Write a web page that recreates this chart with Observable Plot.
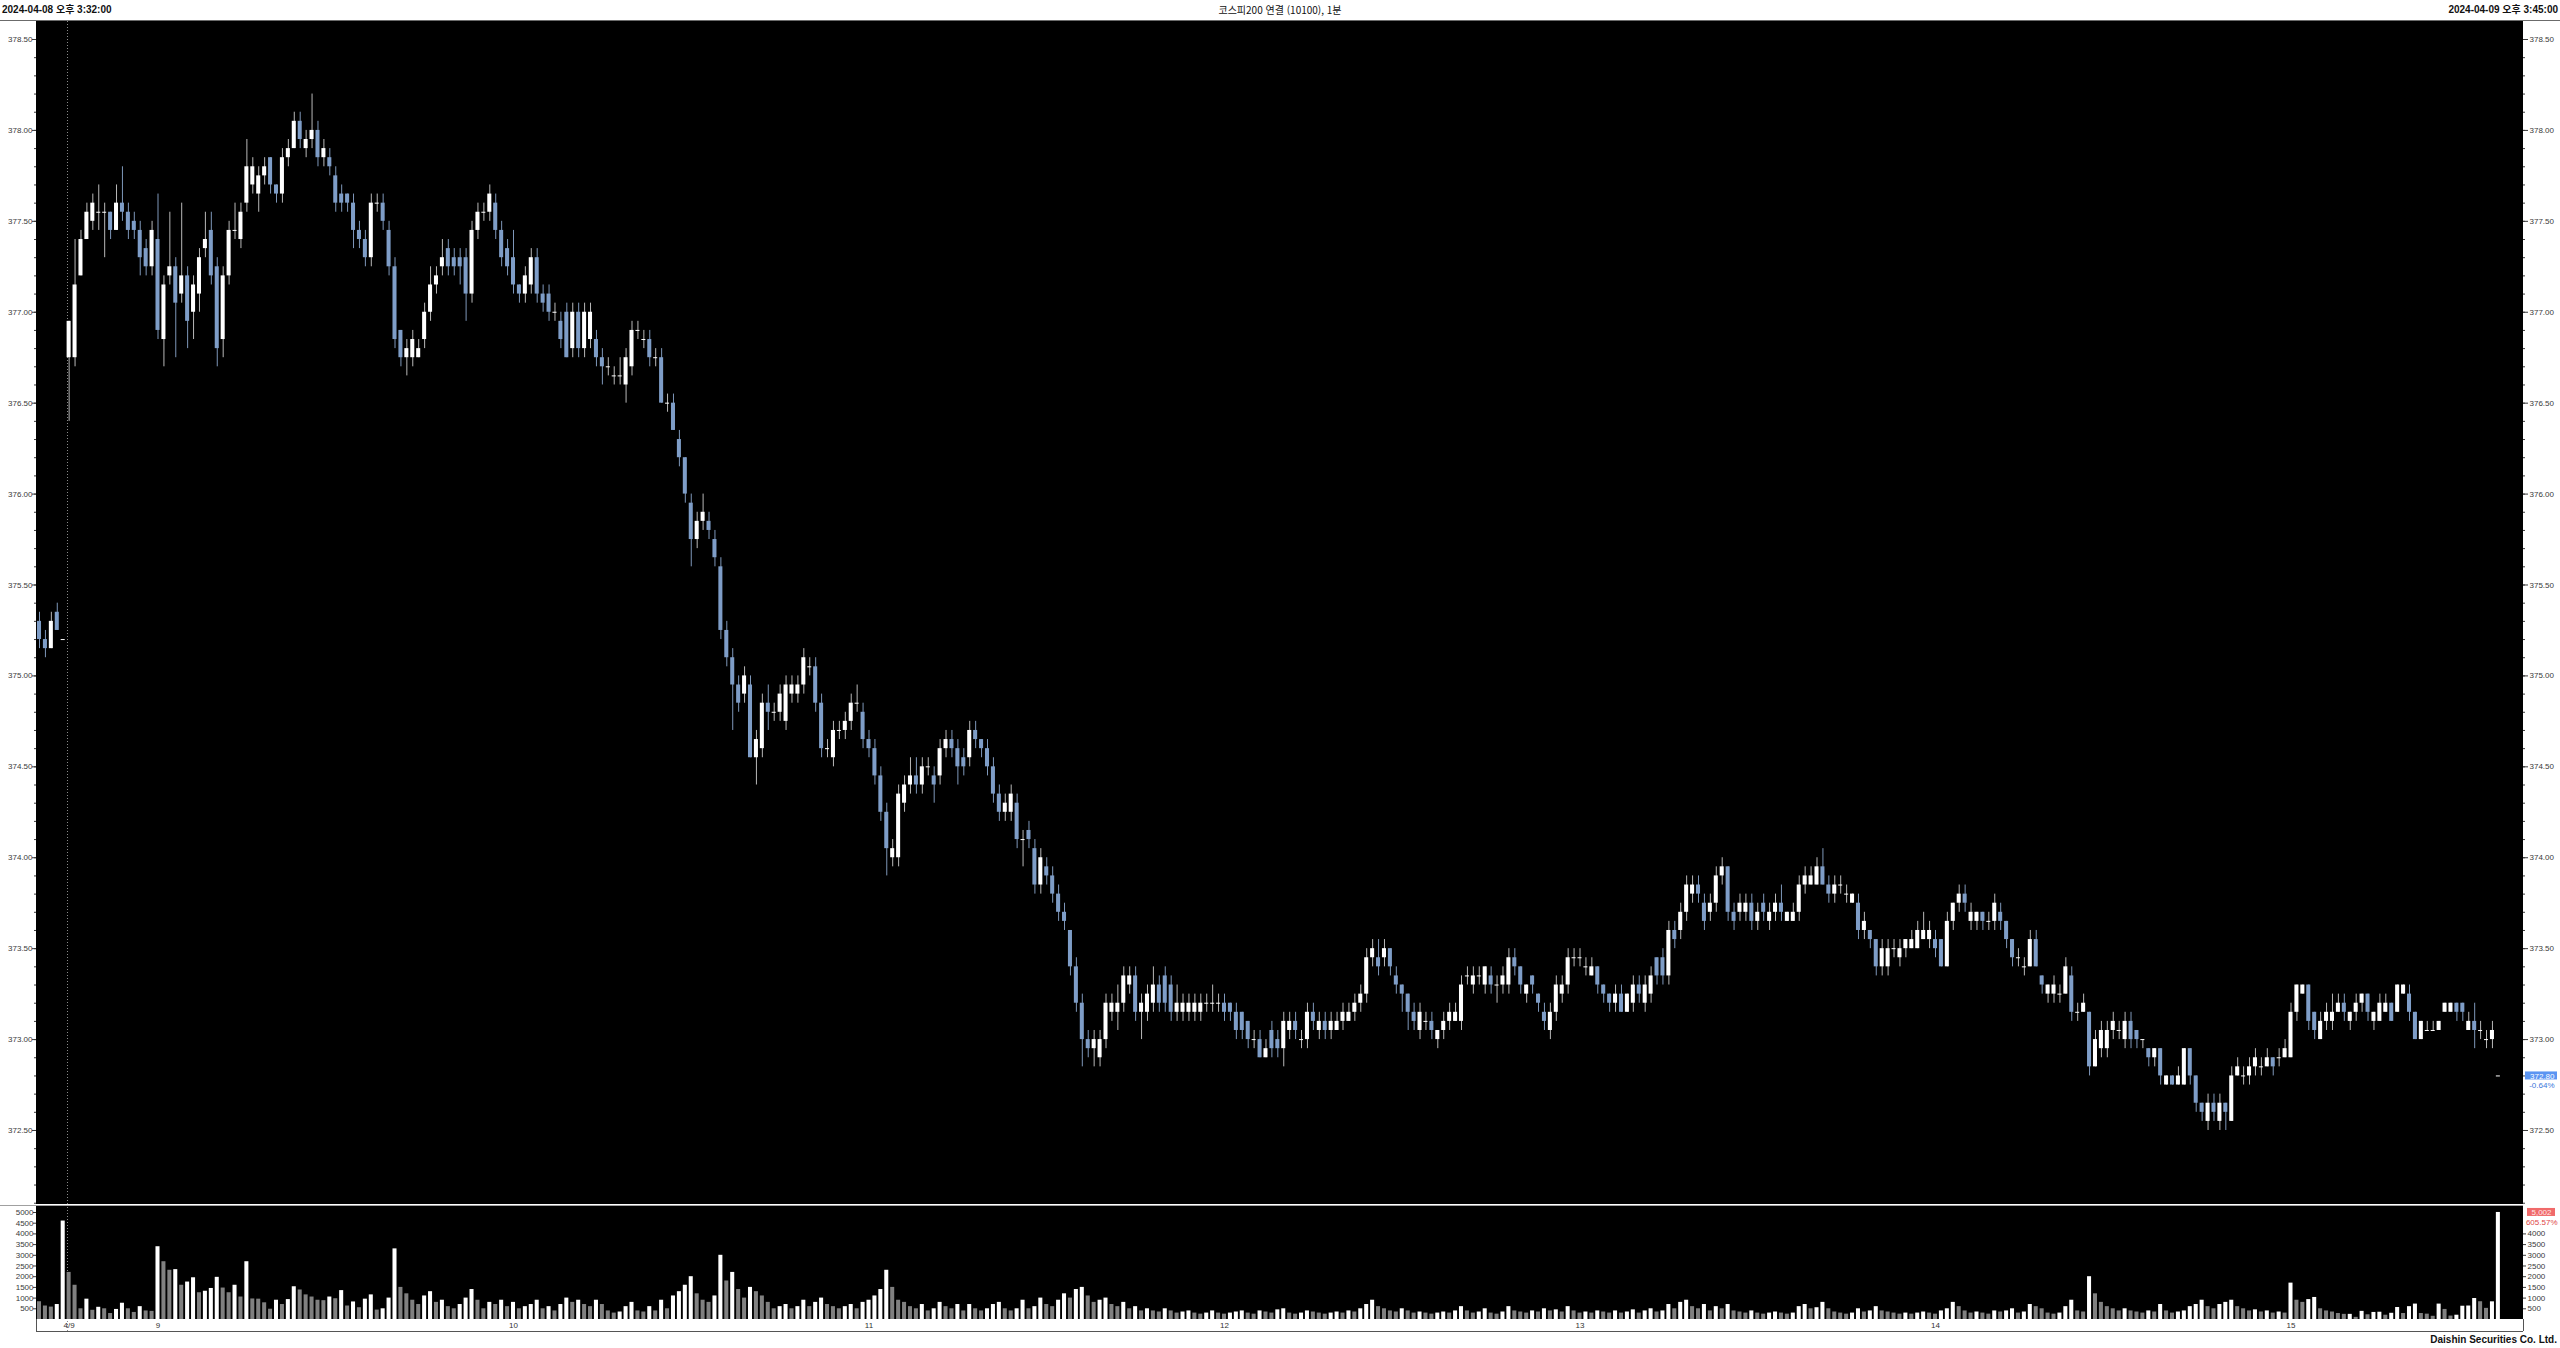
<!DOCTYPE html>
<html lang="ko">
<head>
<meta charset="utf-8">
<title>코스피200 연결 (10100), 1분</title>
<script src="https://cdn.jsdelivr.net/npm/d3@7"></script>
<script src="https://cdn.jsdelivr.net/npm/@observablehq/plot@0.6"></script>
<style>
  html, body { margin:0; padding:0; background:#fff; }
  body { width:2560px; height:1348px; overflow:hidden; font-family:"Liberation Sans","Noto Sans CJK KR",Arial,sans-serif; }
  #hdr { position:relative; height:20px; line-height:20px; border-bottom:1px solid #6b6b6b; font-size:10px; color:#111; }
  #hdr span { position:absolute; top:0; white-space:nowrap; }
  #hdr .l { left:2px; font-weight:bold; }
  #hdr .c { left:1280px; transform:translateX(-50%); font-family:"Noto Sans CJK KR","Liberation Sans",sans-serif; }
  #hdr .r { right:2px; font-weight:bold; }
  #chart svg { display:block; }
  #ftr { height:16px; line-height:16px; text-align:right; padding-right:3px; font-size:10px; font-weight:bold; color:#111; }
</style>
</head>
<body>
<div id="hdr"><span class="l">2024-04-08 오후 3:32:00</span><span class="c">코스피200 연결 (10100), 1분</span><span class="r">2024-04-09 오후 3:45:00</span></div>
<div id="chart"></div>
<div id="ftr">Daishin Securities Co. Ltd.</div>
<script>
// ---------------- data (one bar per minute; 4/8 15:32-15:35, 15:45, then 4/9 08:45-15:34, 15:45) ----------------
const opens = [
375.30,375.20,375.15,375.35,375.20,376.75,376.75,377.20,377.40,377.50,
377.55,377.55,377.55,377.45,377.60,377.55,377.50,377.45,377.35,377.25,
377.40,376.85,377.20,377.25,377.10,377.20,377.00,377.10,377.35,377.45,
377.25,376.85,377.20,377.45,377.40,377.60,377.70,377.65,377.75,377.85,
377.70,377.65,377.85,377.90,378.05,377.90,377.95,378.00,377.85,377.85,
377.75,377.65,377.65,377.60,377.45,377.40,377.30,377.60,377.60,377.45,
377.25,376.90,376.75,376.75,376.75,376.85,377.00,377.15,377.25,377.35,
377.30,377.30,377.30,377.10,377.45,377.55,377.55,377.60,377.45,377.35,
377.30,377.15,377.10,377.15,377.30,377.10,377.10,377.00,376.95,377.00,
376.80,377.00,376.80,376.85,376.85,376.75,376.70,376.65,376.65,376.60,
376.70,376.90,376.85,376.85,376.75,376.75,376.50,376.50,376.30,376.20,
375.95,375.75,375.85,375.85,375.75,375.60,375.25,375.10,374.95,374.90,
374.95,374.55,374.60,374.85,374.80,374.80,374.75,374.90,374.90,374.95,
375.05,375.05,374.85,374.60,374.55,374.70,374.70,374.75,374.85,374.80,
374.65,374.60,374.45,374.25,374.00,374.00,374.30,374.40,374.45,374.40,
374.50,374.45,374.45,374.60,374.65,374.60,374.55,374.55,374.70,374.65,
374.60,374.50,374.35,374.25,374.25,374.30,374.10,374.15,374.05,373.85,
373.95,373.90,373.80,373.70,373.60,373.40,373.20,373.00,372.95,372.90,
373.00,373.15,373.15,373.20,373.30,373.35,373.15,373.15,373.20,373.30,
373.35,373.30,373.15,373.15,373.15,373.15,373.15,373.20,373.20,373.20,
373.20,373.20,373.15,373.15,373.10,373.00,373.00,372.90,373.05,373.00,
372.95,373.05,373.10,373.00,373.00,373.15,373.05,373.10,373.05,373.05,
373.10,373.10,373.15,373.20,373.25,373.45,373.45,373.45,373.50,373.35,
373.30,373.25,373.15,373.05,373.10,373.10,373.00,373.05,373.10,373.10,
373.10,373.35,373.30,373.35,373.30,373.35,373.30,373.30,373.30,373.45,
373.40,373.25,373.35,373.25,373.15,373.05,373.15,373.25,373.30,373.45,
373.45,373.40,373.35,373.40,373.30,373.25,373.20,373.25,373.15,373.20,
373.30,373.20,373.25,373.45,373.45,373.35,373.60,373.60,373.70,373.80,
373.85,373.75,373.70,373.75,373.90,373.95,373.70,373.70,373.70,373.75,
373.65,373.75,373.65,373.70,373.75,373.65,373.65,373.70,373.85,373.85,
373.85,373.95,373.85,373.80,373.85,373.80,373.75,373.75,373.60,373.60,
373.55,373.40,373.40,373.50,373.45,373.50,373.50,373.50,373.55,373.55,
373.55,373.55,373.40,373.65,373.75,373.80,373.65,373.65,373.70,373.65,
373.65,373.70,373.65,373.55,373.45,373.40,373.40,373.55,373.35,373.25,
373.25,373.25,373.25,373.35,373.15,373.15,373.15,372.85,372.95,372.95,
373.05,373.05,373.00,373.10,373.05,373.00,372.95,372.90,372.95,372.75,
372.80,372.75,372.75,372.95,372.80,372.65,372.55,372.65,372.55,372.65,
372.55,372.80,372.80,372.80,372.85,372.85,372.85,372.90,372.90,372.90,
372.90,373.15,373.25,373.30,373.15,373.00,373.10,373.10,373.15,373.20,
373.10,373.15,373.20,373.25,373.10,373.10,373.15,373.20,373.15,373.25,
373.25,373.15,373.00,373.05,373.05,373.05,373.15,373.15,373.20,373.20,
373.05,373.10,373.05,373.00,373.00,372.80];
const highs = [
375.35,375.25,375.35,375.40,375.20,376.95,377.40,377.45,377.60,377.65,
377.70,377.60,377.55,377.70,377.80,377.60,377.55,377.50,377.40,377.50,
377.65,377.20,377.55,377.30,377.60,377.25,377.20,377.35,377.55,377.55,
377.30,377.25,377.50,377.60,377.60,377.95,377.85,377.80,377.85,377.85,
377.70,377.90,377.95,378.10,378.10,378.00,378.20,378.05,377.95,377.90,
377.80,377.70,377.65,377.65,377.50,377.45,377.65,377.65,377.65,377.50,
377.30,376.90,376.85,376.90,376.85,377.05,377.25,377.25,377.40,377.40,
377.35,377.35,377.35,377.50,377.60,377.60,377.70,377.65,377.50,377.40,
377.45,377.15,377.25,377.35,377.35,377.15,377.15,377.05,377.00,377.05,
377.05,377.05,377.05,377.05,376.90,376.80,376.75,376.70,376.75,376.80,
376.95,376.95,376.90,376.90,376.80,376.80,376.55,376.55,376.35,376.20,
376.00,375.90,376.00,375.90,375.80,375.65,375.30,375.15,375.00,375.05,
375.00,374.70,374.90,374.95,374.85,374.95,375.00,375.00,375.00,375.15,
375.10,375.10,374.90,374.65,374.75,374.75,374.80,374.90,374.95,374.85,
374.70,374.65,374.50,374.30,374.10,374.40,374.45,374.55,374.55,374.55,
374.55,374.50,374.65,374.70,374.70,374.65,374.60,374.75,374.75,374.65,
374.65,374.55,374.40,374.35,374.40,374.35,374.15,374.20,374.10,374.05,
374.00,373.95,373.85,373.75,373.60,373.45,373.25,373.05,373.05,373.05,
373.25,373.25,373.30,373.40,373.40,373.40,373.25,373.30,373.40,373.35,
373.40,373.35,373.30,373.25,373.25,373.25,373.25,373.25,373.30,373.25,
373.25,373.20,373.20,373.15,373.10,373.05,373.05,373.00,373.10,373.05,
373.15,373.15,373.15,373.05,373.20,373.20,373.15,373.15,373.15,373.15,
373.20,373.20,373.25,373.30,373.50,373.55,373.55,373.55,373.50,373.40,
373.30,373.25,373.20,373.20,373.15,373.15,373.05,373.15,373.20,373.20,
373.35,373.40,373.40,373.40,373.40,373.40,373.35,373.40,373.50,373.50,
373.40,373.30,373.35,373.25,373.20,373.20,373.35,373.35,373.50,373.50,
373.50,373.45,373.45,373.40,373.30,373.25,373.30,373.30,373.25,373.35,
373.35,373.35,373.40,373.45,373.50,373.65,373.65,373.75,373.90,373.90,
373.90,373.80,373.80,373.95,374.00,373.95,373.75,373.80,373.80,373.80,
373.75,373.80,373.75,373.80,373.85,373.70,373.75,373.90,373.95,373.95,
374.00,374.05,373.90,373.90,373.90,373.85,373.80,373.80,373.70,373.60,
373.55,373.55,373.55,373.55,373.55,373.55,373.60,373.65,373.70,373.65,
373.60,373.55,373.70,373.75,373.85,373.85,373.75,373.70,373.70,373.70,
373.80,373.75,373.65,373.55,373.50,373.45,373.60,373.60,373.35,373.30,
373.35,373.30,373.45,373.40,373.20,373.25,373.15,373.05,373.10,373.10,
373.15,373.10,373.15,373.15,373.05,373.00,372.95,372.95,372.95,372.80,
372.80,372.85,372.95,372.95,372.80,372.65,372.70,372.70,372.70,372.65,
372.85,372.90,372.85,372.90,372.95,372.90,372.95,372.90,372.95,373.00,
373.20,373.30,373.30,373.30,373.15,373.15,373.20,373.25,373.25,373.25,
373.15,373.25,373.25,373.25,373.15,373.25,373.25,373.20,373.30,373.30,
373.30,373.15,373.10,373.10,373.10,373.10,373.20,373.20,373.20,373.20,
373.15,373.20,373.10,373.05,373.10,372.80];
const lows = [
375.15,375.10,375.15,375.25,375.20,376.40,376.70,377.20,377.40,377.45,
377.45,377.30,377.40,377.45,377.50,377.40,377.40,377.20,377.20,377.20,
376.85,376.70,377.15,376.75,377.05,376.80,376.85,377.00,377.30,377.15,
376.70,376.75,377.15,377.40,377.35,377.55,377.65,377.55,377.70,377.65,
377.60,377.60,377.80,377.90,377.90,377.85,377.90,377.80,377.80,377.75,
377.55,377.55,377.55,377.35,377.35,377.25,377.25,377.55,377.45,377.20,
376.80,376.70,376.65,376.70,376.75,376.80,376.95,377.10,377.20,377.20,
377.20,377.15,376.95,377.05,377.40,377.50,377.50,377.40,377.25,377.20,
377.10,377.05,377.05,377.10,377.05,377.00,376.95,376.95,376.80,376.75,
376.75,376.75,376.75,376.80,376.70,376.60,376.65,376.60,376.60,376.50,
376.65,376.85,376.80,376.70,376.70,376.50,376.45,376.35,376.15,375.95,
375.60,375.70,375.80,375.75,375.60,375.20,375.05,374.70,374.80,374.85,
374.55,374.40,374.55,374.70,374.75,374.75,374.70,374.85,374.85,374.90,
375.00,374.80,374.55,374.55,374.50,374.65,374.65,374.70,374.80,374.60,
374.55,374.40,374.20,373.90,373.95,373.95,374.25,374.35,374.35,374.35,
374.45,374.30,374.40,374.55,374.55,374.40,374.45,374.50,374.60,374.55,
374.45,374.30,374.20,374.20,374.20,374.05,373.95,374.05,373.80,373.80,
373.85,373.75,373.65,373.60,373.35,373.15,372.85,372.90,372.85,372.85,
372.95,373.10,373.05,373.15,373.25,373.10,373.00,373.10,373.15,373.15,
373.15,373.10,373.10,373.10,373.10,373.10,373.10,373.15,373.15,373.15,
373.10,373.10,373.00,373.00,372.95,372.95,372.90,372.90,372.90,372.90,
372.85,373.00,373.00,372.95,372.95,373.05,373.00,373.00,373.00,373.05,
373.05,373.10,373.10,373.15,373.20,373.40,373.35,373.40,373.35,373.25,
373.15,373.05,373.05,373.00,373.05,373.00,372.95,373.00,373.05,373.10,
373.05,373.30,373.25,373.30,373.25,373.25,373.20,373.25,373.25,373.35,
373.25,373.20,373.25,373.15,373.05,373.00,373.10,373.20,373.25,373.40,
373.40,373.35,373.35,373.25,373.20,373.15,373.15,373.15,373.15,373.15,
373.20,373.15,373.20,373.30,373.30,373.30,373.50,373.55,373.65,373.75,
373.75,373.60,373.65,373.70,373.85,373.65,373.60,373.65,373.65,373.60,
373.60,373.65,373.60,373.65,373.65,373.65,373.65,373.65,373.80,373.85,
373.85,373.85,373.75,373.75,373.80,373.75,373.75,373.55,373.55,373.50,
373.35,373.35,373.35,373.45,373.40,373.45,373.50,373.50,373.55,373.50,
373.45,373.40,373.40,373.60,373.70,373.70,373.60,373.60,373.60,373.60,
373.60,373.60,373.50,373.40,373.40,373.35,373.40,373.40,373.25,373.20,
373.20,373.20,373.25,373.10,373.10,373.15,372.80,372.85,372.90,372.90,
373.00,373.00,372.95,372.95,372.95,372.95,372.85,372.85,372.75,372.75,
372.75,372.75,372.75,372.75,372.60,372.55,372.50,372.55,372.50,372.50,
372.55,372.80,372.75,372.75,372.80,372.80,372.85,372.80,372.85,372.90,
372.90,373.10,373.25,373.05,373.00,373.00,373.05,373.05,373.15,373.10,
373.05,373.10,373.15,373.10,373.05,373.10,373.15,373.10,373.15,373.25,
373.10,373.00,373.00,373.05,373.05,373.05,373.15,373.15,373.10,373.10,
373.05,372.95,373.00,372.95,372.95,372.80];
const closes = [
375.20,375.15,375.30,375.25,375.20,376.95,377.15,377.40,377.55,377.60,
377.55,377.55,377.45,377.60,377.55,377.45,377.45,377.30,377.25,377.45,
376.90,377.15,377.25,377.05,377.20,376.95,377.15,377.30,377.40,377.20,
376.80,377.20,377.45,377.45,377.55,377.80,377.80,377.75,377.80,377.70,
377.65,377.85,377.90,378.05,377.95,377.95,378.00,377.85,377.90,377.80,
377.60,377.60,377.60,377.45,377.40,377.30,377.60,377.60,377.50,377.25,
376.85,376.75,376.80,376.85,376.80,377.00,377.15,377.20,377.30,377.25,
377.25,377.25,377.10,377.45,377.55,377.55,377.65,377.45,377.30,377.25,
377.15,377.10,377.20,377.30,377.10,377.05,377.00,377.00,376.85,376.75,
377.00,376.80,377.00,377.00,376.75,376.70,376.70,376.65,376.65,376.75,
376.90,376.90,376.85,376.75,376.75,376.50,376.50,376.35,376.20,376.00,
375.75,375.85,375.90,375.80,375.65,375.25,375.10,374.95,374.85,375.00,
374.55,374.65,374.85,374.80,374.80,374.90,374.95,374.95,374.95,375.10,
375.05,374.85,374.60,374.60,374.70,374.70,374.75,374.85,374.85,374.65,
374.60,374.45,374.25,374.05,374.05,374.35,374.40,374.45,374.40,374.50,
374.50,374.40,374.60,374.65,374.60,374.50,374.50,374.70,374.65,374.60,
374.50,374.35,374.25,374.30,374.35,374.10,374.10,374.10,373.85,374.00,
373.90,373.80,373.70,373.65,373.40,373.20,373.00,372.95,373.00,373.00,
373.20,373.20,373.20,373.35,373.35,373.15,373.20,373.25,373.30,373.20,
373.20,373.15,373.20,373.20,373.20,373.20,373.20,373.20,373.20,373.20,
373.15,373.15,373.05,373.05,373.00,373.00,372.90,372.95,372.95,372.95,
373.10,373.10,373.05,373.00,373.15,373.10,373.10,373.05,373.10,373.10,
373.15,373.15,373.20,373.25,373.45,373.50,373.40,373.50,373.40,373.30,
373.25,373.15,373.10,373.15,373.10,373.05,373.05,373.10,373.15,373.15,
373.30,373.35,373.35,373.35,373.40,373.30,373.30,373.35,373.45,373.40,
373.30,373.30,373.30,373.20,373.10,373.15,373.30,373.30,373.45,373.45,
373.45,373.40,373.40,373.30,373.25,373.20,373.25,373.15,373.25,373.30,
373.25,373.30,373.35,373.35,373.35,373.60,373.55,373.70,373.85,373.85,
373.80,373.65,373.75,373.90,373.95,373.70,373.65,373.75,373.75,373.65,
373.70,373.70,373.70,373.75,373.70,373.70,373.70,373.85,373.90,373.90,
373.95,373.85,373.80,373.85,373.85,373.80,373.80,373.60,373.65,373.55,
373.40,373.50,373.50,373.50,373.50,373.55,373.55,373.60,373.60,373.60,
373.50,373.40,373.65,373.75,373.80,373.75,373.70,373.70,373.65,373.65,
373.75,373.65,373.55,373.45,373.45,373.40,373.55,373.40,373.30,373.30,
373.30,373.25,373.40,373.15,373.15,373.20,372.85,373.00,373.05,373.05,
373.10,373.05,373.10,373.00,373.00,373.00,372.90,372.95,372.80,372.80,
372.75,372.80,372.95,372.80,372.65,372.60,372.65,372.60,372.65,372.60,
372.80,372.85,372.80,372.85,372.90,372.85,372.90,372.85,372.90,372.95,
373.15,373.30,373.30,373.10,373.05,373.10,373.15,373.15,373.20,373.15,
373.15,373.20,373.25,373.15,373.15,373.20,373.20,373.10,373.30,373.30,
373.15,373.00,373.10,373.05,373.05,373.10,373.20,373.20,373.15,373.15,
373.10,373.05,373.05,373.00,373.05,372.80];
const volumes = [
830,630,580,700,4600,2200,1600,500,950,430,
570,500,280,470,760,500,330,600,400,380,
3400,2700,2300,2330,1600,1750,1950,1250,1320,1450,
1970,1470,1250,1600,1050,2700,960,950,780,480,
900,700,930,1530,1380,1150,1050,900,880,1050,
970,1350,630,820,550,950,1150,440,500,1000,
3300,1500,1200,900,700,1100,1300,800,900,600,
500,700,1000,1400,900,500,800,700,900,600,
800,500,600,700,900,500,600,400,700,1000,
800,900,700,600,900,700,400,300,350,600,
800,400,350,600,400,900,500,1100,1300,1600,
2000,1200,900,800,1100,3000,1800,2200,1400,1000,
1500,1300,1100,800,500,600,700,500,600,900,
600,800,1000,700,600,500,600,700,500,800,
900,1100,1400,2300,1500,900,800,600,500,700,
400,500,800,600,500,700,400,700,500,400,
500,700,800,500,400,500,900,500,600,1000,
700,600,900,1200,1000,1400,1500,1100,800,900,
1000,700,600,800,500,600,400,500,400,350,
500,400,300,350,400,300,250,300,400,300,
250,300,350,400,300,250,400,350,300,450,
500,300,250,300,400,350,300,250,300,350,
300,400,350,500,700,900,600,500,400,350,
500,400,300,350,300,250,300,350,300,400,
600,400,300,350,500,300,250,350,600,400,
350,300,400,350,500,400,450,350,600,400,
300,350,300,400,350,300,400,300,350,450,
300,400,500,350,400,700,500,800,900,600,
500,700,400,600,500,700,400,350,300,400,
300,250,300,350,300,250,300,600,700,500,
550,800,500,350,300,250,300,500,350,400,
600,400,350,300,250,300,250,300,350,300,
250,400,500,800,600,400,300,350,300,250,
400,350,400,500,300,350,700,600,500,300,
250,300,600,900,400,350,2000,1200,800,600,
500,400,500,400,350,300,400,350,700,400,
300,350,400,600,700,900,600,500,700,800,
900,600,500,400,450,350,400,300,350,300,
1700,900,800,930,1030,500,400,350,280,240,
240,100,380,220,330,340,200,290,560,280,
600,720,280,250,150,720,470,160,200,620,
630,980,830,520,826,5002];
const prevSessionCloseIndex = 4;                 // 4/8 closing bar
const xTickIndex  = [5, 20, 80, 140, 200, 260, 320, 380];
const xTickLabels = ["4/9", "9", "10", "11", "12", "13", "14", "15"];
const priceMajor  = [372.5, 373, 373.5, 374, 374.5, 375, 375.5, 376, 376.5, 377, 377.5, 378, 378.5];
const priceMinor  = d3.range(3721, 3786).map(v => v / 10);
const volLeftTicks  = [500, 1000, 1500, 2000, 2500, 3000, 3500, 4000, 4500, 5000];
const volRightTicks = [500, 1000, 1500, 2000, 2500, 3000, 3500, 4000];

// ---------------- layout / style ----------------
const W = 2560, ML = 36, MR = 37;
const PX0 = 39, STEP = 5.925;           // page x of first bar and bar spacing
const px = p => (p - PX0) / STEP;        // page pixel -> bar-index units (for decorations in margins)
const xDomain = [px(ML), px(W - MR)];
const HB = 0.34;                         // half body width in bar units
const UP = "#ffffff", DOWN = "#7e9dc7", UP_WICK = "#b8b8b8", DOWN_WICK = "#7e97b9";
const AXIS = "#3a3a3a";
const FONT = "Liberation Sans, Arial, sans-serif";

const N = Math.min(opens.length, highs.length, lows.length, closes.length, volumes.length);
const rows = d3.range(N).map(i => {
  const o = opens[i], c = closes[i];
  return {i, o, c, h: Math.max(highs[i], o, c), l: Math.min(lows[i], o, c), v: volumes[i],
          vUp: i > 0 && volumes[i] >= volumes[i - 1]};
});
const last = rows[N - 1];
const chg = (last.c / closes[prevSessionCloseIndex] - 1) * 100;
const vchg = volumes[N - 1] / volumes[N - 2] * 100;

// ---------------- price panel ----------------
const yDom = [372.093, 378.599];
const price = Plot.plot({
  width: W, height: 1183, marginLeft: ML, marginRight: MR, marginTop: 0, marginBottom: 0,
  x: {domain: xDomain, axis: null},
  y: {domain: yDom, axis: null},
  style: {background: "white", fontFamily: FONT},
  marks: [
    Plot.rect([0], {x1: () => xDomain[0], x2: () => xDomain[1], y1: () => yDom[0], y2: () => yDom[1], fill: "black"}),
    Plot.ruleX([px(67)], {x: d => d, y1: () => yDom[0], y2: () => yDom[1], stroke: "#8a8a8a", strokeDasharray: "1,2"}),
    Plot.ruleX(rows.filter(d => d.c >= d.o), {x: "i", y1: "l", y2: "h", stroke: UP_WICK, strokeWidth: 1}),
    Plot.ruleX(rows.filter(d => d.c < d.o), {x: "i", y1: "l", y2: "h", stroke: DOWN_WICK, strokeWidth: 1}),
    Plot.rect(rows.filter(d => d.c > d.o), {x1: d => d.i - HB, x2: d => d.i + HB, y1: "o", y2: "c", fill: UP}),
    Plot.rect(rows.filter(d => d.c < d.o), {x1: d => d.i - HB, x2: d => d.i + HB, y1: "c", y2: "o", fill: DOWN}),
    Plot.ruleY(rows.filter(d => d.c === d.o), {y: "c", x1: d => d.i - HB, x2: d => d.i + HB, stroke: UP}),
    // left axis
    Plot.ruleY(priceMinor, {y: d => d, x1: () => px(34), x2: () => px(36), stroke: AXIS}),
    Plot.ruleY(priceMajor, {y: d => d, x1: () => px(32), x2: () => px(36), stroke: AXIS}),
    Plot.text(priceMajor, {y: d => d, text: d => d.toFixed(2), frameAnchor: "left", dx: -4, textAnchor: "end", fill: AXIS, fontSize: 8}),
    // right axis
    Plot.ruleY(priceMinor, {y: d => d, x1: () => px(2523), x2: () => px(2525), stroke: AXIS}),
    Plot.ruleY(priceMajor, {y: d => d, x1: () => px(2523), x2: () => px(2528), stroke: AXIS}),
    Plot.text(priceMajor.filter(d => Math.abs(d - last.c) > 0.12), {y: d => d, text: d => d.toFixed(2), frameAnchor: "right", dx: 6, textAnchor: "start", fill: AXIS, fontSize: 8}),
    // last price label
    Plot.rect([last], {x1: () => px(2525), x2: () => px(2557), y1: d => d.c - 0.022, y2: d => d.c + 0.022, fill: "#5b95f2"}),
    Plot.text([last], {y: "c", text: d => d.c.toFixed(2), frameAnchor: "right", dx: 31, textAnchor: "end", fill: "white", fontSize: 8}),
    Plot.text([last], {y: d => d.c - 0.05, text: () => chg.toFixed(2) + "%", frameAnchor: "right", dx: 31, textAnchor: "end", fill: "#3d76da", fontSize: 8})
  ]
});

// ---------------- volume panel ----------------
const VTOP = 5327, VBOT = -561;
const vol = Plot.plot({
  width: W, height: 128, marginLeft: ML, marginRight: MR, marginTop: 1, marginBottom: 13,
  x: {domain: xDomain, axis: null},
  y: {domain: [0, VTOP], axis: null},
  style: {background: "white", fontFamily: FONT},
  marks: [
    Plot.rect([0], {x1: () => xDomain[0], x2: () => xDomain[1], y1: () => 0, y2: () => VTOP, fill: "black"}),
    Plot.ruleY([VTOP], {y: d => d, x1: () => px(0), x2: () => xDomain[1], stroke: "#a0a0a0"}),
    Plot.ruleX([px(67)], {x: d => d, y1: () => VBOT, y2: () => VTOP, stroke: "#8a8a8a", strokeDasharray: "1,2"}),
    Plot.rect(rows.filter(d => d.vUp), {x1: d => d.i - HB, x2: d => d.i + HB, y1: () => 0, y2: "v", fill: "#ffffff"}),
    Plot.rect(rows.filter(d => !d.vUp), {x1: d => d.i - HB, x2: d => d.i + HB, y1: () => 0, y2: "v", fill: "#808080"}),
    // label strip box
    Plot.ruleY([VBOT], {y: d => d, x1: () => xDomain[0], x2: () => xDomain[1], stroke: "#555"}),
    Plot.ruleX(xDomain, {x: d => d, y1: () => VBOT, y2: () => 0, stroke: "#555"}),
    Plot.text(xTickIndex, {x: d => d, text: (d, k) => xTickLabels[k], frameAnchor: "bottom", dy: 8, fill: "#333", fontSize: 8}),
    // left axis
    Plot.ruleY(volLeftTicks, {y: d => d, x1: () => px(33), x2: () => px(36), stroke: AXIS}),
    Plot.text(volLeftTicks, {y: d => d, text: d => String(d), frameAnchor: "left", dx: -3, textAnchor: "end", fill: AXIS, fontSize: 8}),
    // right axis
    Plot.ruleY(volRightTicks, {y: d => d, x1: () => px(2523), x2: () => px(2526), stroke: AXIS}),
    Plot.text(volRightTicks, {y: d => d, text: d => String(d), frameAnchor: "right", dx: 4, textAnchor: "start", fill: AXIS, fontSize: 8}),
    // last volume label
    Plot.rect([last], {x1: () => px(2527), x2: () => px(2555), y1: d => d.v - 187, y2: d => d.v + 187, fill: "#f06a6a"}),
    Plot.text([last], {y: "v", text: d => d3.format(",")(d.v), frameAnchor: "right", dx: 18, textAnchor: "middle", fill: "#ffe9e9", fontSize: 8}),
    Plot.text([last], {y: d => d.v - 446, text: () => vchg.toFixed(2) + "%", frameAnchor: "right", dx: 34, textAnchor: "end", fill: "#e04646", fontSize: 8})
  ]
});

const host = document.getElementById("chart");
host.appendChild(price);
host.appendChild(vol);
</script>
</body>
</html>
